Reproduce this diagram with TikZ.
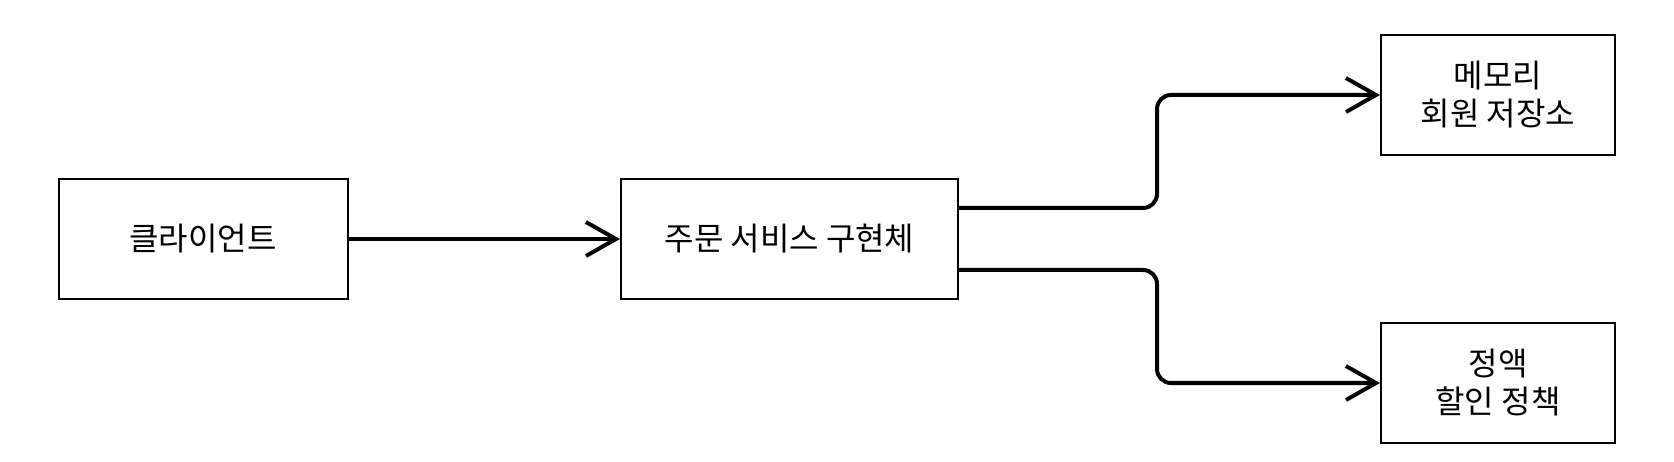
\documentclass[tikz,border=0pt]{standalone}
\usepackage{fontspec}
\setmainfont{Noto Sans CJK KR}
\usetikzlibrary{arrows.meta}
\begin{document}
\begin{tikzpicture}[x=1pt,y=-1pt,
  box/.style={draw, line width=2pt, minimum width=#1, minimum height=120pt, inner sep=0pt, align=center, font=\fontsize{32}{38}\selectfont},
  conn/.style={line width=4pt, -{Straight Barb[length=30pt,width=34pt]}, rounded corners=14pt}]
\useasboundingbox (0,0) rectangle (1674,462);
\node[box=289pt] (a) at (203,239) {클라이언트};
\node[box=337pt] (b) at (789.5,239) {주문 서비스 구현체};
\node[box=234pt] (c) at (1498,95) {메모리\\회원 저장소};
\node[box=234pt] (d) at (1498,383) {정액\\할인 정책};
\draw[conn] (a.east) -- (b.west);
\draw[conn] ([yshift=-30pt]b.north east) -- ++(198,0) |- (c.west);
\draw[conn] ([yshift=30pt]b.south east) -- ++(198,0) |- (d.west);
\end{tikzpicture}
\end{document}
